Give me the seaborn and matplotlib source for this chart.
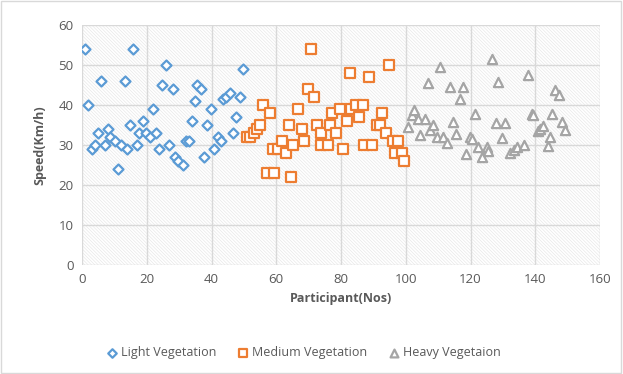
import numpy as np
import pandas as pd
import matplotlib
matplotlib.use("Agg")
import matplotlib.pyplot as plt
from matplotlib.patches import Rectangle
import seaborn as sns

# Light vegetation (participants 1-50)
light_x = [1, 2, 3, 3.9, 4.9, 6, 7, 8, 8.8, 10.1, 11.1, 12.1, 13.2, 14, 14.8, 15.8, 17, 17.6, 18.8,
           19.8, 21.1, 21.9, 23, 23.8, 24.7, 25.8, 26.9, 28, 28.6, 29.8, 31.1, 32.1, 33, 33.9,
           34.8, 35.6, 36.8, 37.7, 38.6, 39.8, 40.8, 42, 43, 43.6, 44.4, 45.7, 46.6, 47.7, 48.9, 49.7]
light_y = [54, 40, 29, 30, 33, 46, 30, 34, 32, 31, 24, 30, 46, 29, 35, 54, 30, 33, 36,
           33, 32, 39, 33, 29, 45, 50, 30, 44, 27, 26, 25, 31, 31, 36,
           41, 45, 44, 27, 35, 39, 29, 32, 31, 41.6, 42, 43, 33, 37, 42, 49]

# Medium vegetation (participants 51-100)
medium_x = [51, 52, 53, 54, 55, 56, 57, 58, 59, 59.4, 60.4, 61.8, 62.9, 63.8, 65.3, 64.7, 66.7,
            67.8, 68.7, 69.8, 70.7, 71.8, 72.7, 73.7, 73.9, 75.9, 76.6, 77.1, 78.4, 79.7, 80.6,
            81.8, 82.7, 83.2, 84.7, 85.6, 86.9, 87.1, 88.6, 89.7, 91, 92, 92.7, 93.8, 94.8, 96,
            96.7, 97.7, 98.9, 99.6]
medium_y = [32, 32, 33, 34, 35, 40, 23, 38, 29, 23, 29, 31, 28, 35, 30, 22, 39,
            34, 31, 44, 54, 42, 35, 33, 30, 30, 35, 38, 33, 39, 29,
            36, 48, 39, 40, 37, 40, 30, 47, 30, 35, 35, 38, 33, 50, 31,
            28, 31, 28, 26]

# Heavy vegetation (participants 101-150)
heavy_x = [100.6, 101.9, 102.5, 103.7, 104.5, 105.8, 106.8, 107.6, 108.5, 109.5, 110.5, 111.5,
           112.8, 113.6, 114.6, 115.6, 116.7, 117.7, 118.5, 119.8, 120.6, 121.5, 122.4, 123.7,
           125.1, 125.5, 126.7, 127.8, 128.6, 129.6, 130.7, 132.1, 133.3, 134.4, 136.5, 137.7,
           138.9, 139.3, 140.7, 141.4, 142.4, 143.8, 144.7, 145.1, 146, 147.3, 148.2, 149.3]
heavy_y = [34.6, 37.4, 38.8, 36.6, 32.6, 36.6, 45.6, 33.8, 34.9, 31.9, 49.6, 31.9,
           30.4, 44.6, 35.8, 32.8, 41.4, 44.6, 27.8, 31.9, 31.4, 37.8, 29.6, 26.9,
           29.6, 28.6, 51.6, 35.6, 45.8, 31.8, 35.6, 27.9, 28.8, 29.6, 29.9, 47.6,
           37.8, 37.4, 33.4, 34.1, 34.8, 29.8, 32.1, 37.8, 43.8, 42.4, 35.8, 33.8]

labels = ["Light Vegetation", "Medium Vegetation", "Heavy Vegetaion"]
colors = ["#5B9BD5", "#ED7D31", "#A5A5A5"]
markers = ["D", "s", "^"]
sizes = [26, 42, 44]

sns.set_style("white")
plt.rcParams["font.family"] = ["Open Sans", "DejaVu Sans"]
plt.rcParams["hatch.linewidth"] = 0.5

fig = plt.figure(figsize=(6.23, 3.74), dpi=100)
ax = fig.add_axes([82 / 623, 1 - 265 / 374, 518 / 623, 240 / 374])

# hatched plot-area background
ax.add_patch(Rectangle((0, 0), 1, 1, transform=ax.transAxes, facecolor="white",
                       edgecolor="#e8e8e8", hatch="\\" * 10, linewidth=0, zorder=0))

groups = [(light_x, light_y), (medium_x, medium_y), (heavy_x, heavy_y)]
for (gx, gy), lab, col, mk, sz in zip(groups, labels, colors, markers, sizes):
    df = pd.DataFrame({"x": gx, "y": gy})
    sns.scatterplot(data=df, x="x", y="y", marker=mk, s=sz, facecolor="white",
                    edgecolor=col, linewidth=1.6, label=lab, ax=ax, zorder=3)

ax.set_xlim(0, 160)
ax.set_ylim(0, 60)
ax.set_xticks(range(0, 161, 20))
ax.set_yticks(range(0, 61, 10))
ax.grid(True, color="#d9d9d9", linewidth=1)
ax.set_axisbelow(True)
for s in ax.spines.values():
    s.set_visible(False)
ax.tick_params(length=0, labelsize=9.5, colors="#595959", pad=6)
ax.set_xlabel("Participant(Nos)", fontsize=9, fontweight="bold", color="#595959", labelpad=4)
ax.set_ylabel("Speed(Km/h)", fontsize=9, fontweight="bold", color="#595959", labelpad=9)

ax.legend(loc="center", bbox_to_anchor=((304 - 82) / 518, -0.365), ncol=3, frameon=False,
          fontsize=9, labelcolor="#595959", handlelength=0.8, handletextpad=0.32,
          columnspacing=1.75, markerscale=0.85)

fig.patches.append(Rectangle((0.002, 0.003), 0.995, 0.994, transform=fig.transFigure,
                             fill=False, edgecolor="#d9d9d9", linewidth=1))

fig.savefig("out.png", dpi=100)
